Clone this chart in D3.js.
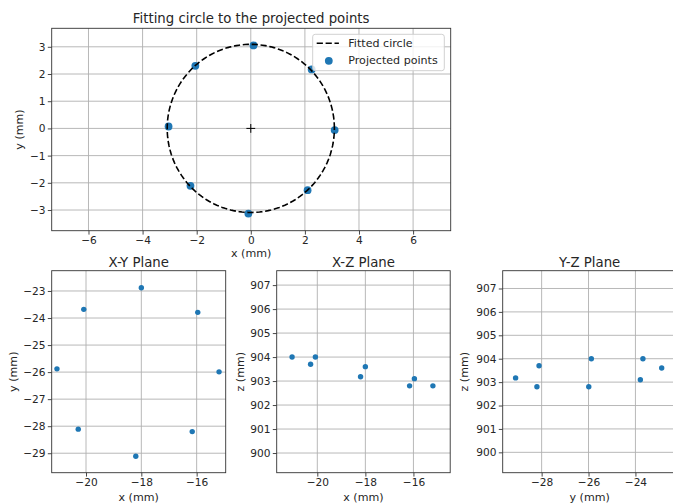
<!DOCTYPE html>
<html>
<head>
<meta charset="utf-8">
<script src="https://cdn.jsdelivr.net/npm/d3@7"></script>
<style>
  html, body { margin: 0; padding: 0; background: #fff; }
  svg { display: block; font-family: "DejaVu Sans", sans-serif; }
</style>
</head>
<body>
<svg id="chart" width="673" height="503"></svg>
<script>
// ---- Data ----
// 3D points (mm)
const ptsX = [-21.05, -20.08, -18.0, -15.96, -15.19, -16.16, -18.2, -20.28];
const ptsY = [-25.88, -23.68, -22.88, -23.79, -25.99, -28.2, -29.11, -28.11];
const ptsZ = [904.0, 904.0, 903.6, 903.1, 902.8, 902.8, 903.18, 903.7];
// Points projected onto the fitted plane (mm)
const projU = [-3.04, -2.05, 0.1, 2.25, 3.1, 2.1, -0.09, -2.23];
const projV = [0.07, 2.3, 3.05, 2.17, -0.06, -2.27, -3.13, -2.11];
// Fitted circle
const circleCenter = [0, 0];
const circleRadius = 3.09;
// Tick values
const topXTicks = [-6, -4, -2, 0, 2, 4, 6];
const topYTicks = [-3, -2, -1, 0, 1, 2, 3];
const xyXTicks = [-20, -18, -16];
const xyYTicks = [-29, -28, -27, -26, -25, -24, -23];
const xzXTicks = [-20, -18, -16];
const zTicks = [900, 901, 902, 903, 904, 905, 906, 907];
const yzXTicks = [-28, -26, -24];
// Labels
const legendLabels = ["Fitted circle", "Projected points"];

const BLUE = "#1f77b4";
const TEXT = "#262626";
const svg = d3.select("#chart");
const fmt = d3.format("d");

function panel(opt) {
  const g = svg.append("g");
  const x = d3.scaleLinear().domain(opt.xDomain).range([opt.left, opt.right]);
  const y = d3.scaleLinear().domain(opt.yDomain).range([opt.bottom, opt.top]);
  // grid
  g.append("g").selectAll("line.gx").data(opt.xTicks).join("line")
    .attr("x1", d => x(d)).attr("x2", d => x(d))
    .attr("y1", opt.top).attr("y2", opt.bottom)
    .attr("stroke", "#b0b0b0").attr("stroke-width", 0.9);
  g.append("g").selectAll("line.gy").data(opt.yTicks).join("line")
    .attr("y1", d => y(d)).attr("y2", d => y(d))
    .attr("x1", opt.left).attr("x2", opt.right)
    .attr("stroke", "#b0b0b0").attr("stroke-width", 0.9);
  // axes
  const ax = g.append("g").attr("transform", `translate(0,${opt.bottom})`)
    .call(d3.axisBottom(x).tickValues(opt.xTicks).tickFormat(fmt).tickSize(3.9).tickPadding(2.3).tickSizeOuter(0));
  const ay = g.append("g").attr("transform", `translate(${opt.left},0)`)
    .call(d3.axisLeft(y).tickValues(opt.yTicks).tickFormat(fmt).tickSize(3.9).tickPadding(2.3).tickSizeOuter(0));
  [ax, ay].forEach(a => {
    a.select(".domain").remove();
    a.selectAll(".tick line").attr("stroke", "#333").attr("stroke-width", 0.9);
    a.selectAll(".tick text").attr("fill", TEXT).style("font-size", "10.6px")
      .style("font-family", "DejaVu Sans");
  });
  // frame
  g.append("rect").attr("x", opt.left).attr("y", opt.top)
    .attr("width", opt.right - opt.left).attr("height", opt.bottom - opt.top)
    .attr("fill", "none").attr("stroke", "#333").attr("stroke-width", 0.9);
  // labels
  g.append("text").attr("x", (opt.left + opt.right) / 2).attr("y", opt.titleY)
    .attr("text-anchor", "middle").attr("fill", TEXT).style("font-size", "13.3px").text(opt.title);
  g.append("text").attr("x", (opt.left + opt.right) / 2).attr("y", opt.xLabelY)
    .attr("text-anchor", "middle").attr("fill", TEXT).style("font-size", "11.1px").text(opt.xLabel);
  g.append("text").attr("transform", `translate(${opt.yLabelX},${(opt.top + opt.bottom) / 2}) rotate(-90)`)
    .attr("text-anchor", "middle").attr("fill", TEXT).style("font-size", "11.1px").text(opt.yLabel);
  const clipId = "clip" + Math.round(opt.left) + "_" + Math.round(opt.top);
  svg.append("clipPath").attr("id", clipId).append("rect")
    .attr("x", opt.left).attr("y", opt.top).attr("width", opt.right - opt.left).attr("height", opt.bottom - opt.top);
  const plot = g.append("g").attr("clip-path", `url(#${clipId})`);
  return { g, x, y, plot };
}

// ---- Top panel ----
const topP = panel({
  left: 51.7, right: 450.7, top: 28.3, bottom: 230.7,
  xDomain: [-7.36, 7.39], yDomain: [-3.76, 3.68],
  xTicks: topXTicks, yTicks: topYTicks,
  title: "Fitting circle to the projected points", titleY: 23.3,
  xLabel: "x (mm)", xLabelY: 257.3, yLabel: "y (mm)", yLabelX: 23
});
topP.plot.selectAll("circle.pt").data(projU.map((u, i) => [u, projV[i]])).join("circle")
  .attr("cx", d => topP.x(d[0])).attr("cy", d => topP.y(d[1])).attr("r", 3.9).attr("fill", BLUE);
// fitted circle
const angles = d3.range(0, 361, 2);
const circ = d3.line().x(a => topP.x(circleCenter[0] + circleRadius * Math.cos(a * Math.PI / 180)))
  .y(a => topP.y(circleCenter[1] + circleRadius * Math.sin(a * Math.PI / 180)));
topP.plot.append("path").attr("d", circ(angles)).attr("fill", "none")
  .attr("stroke", "#000").attr("stroke-width", 1.6).attr("stroke-dasharray", "6.2,2.7");
// center marker
const ccx = topP.x(circleCenter[0]), ccy = topP.y(circleCenter[1]);
topP.plot.append("path").attr("d", `M${ccx - 4.4},${ccy}H${ccx + 4.4}M${ccx},${ccy - 4.4}V${ccy + 4.4}`)
  .attr("stroke", "#000").attr("stroke-width", 1);
// legend
const lg = svg.append("g");
lg.append("rect").attr("x", 312.7).attr("y", 34.3).attr("width", 131.6).attr("height", 36.4)
  .attr("rx", 2.5).attr("fill", "#fff").attr("fill-opacity", 0.8).attr("stroke", "#cccccc").attr("stroke-width", 0.9);
lg.append("line").attr("x1", 316.7).attr("x2", 338.9).attr("y1", 43.3).attr("y2", 43.3)
  .attr("stroke", "#000").attr("stroke-width", 1.6).attr("stroke-dasharray", "6.2,2.7");
lg.append("circle").attr("cx", 328.8).attr("cy", 60.8).attr("r", 3.9).attr("fill", BLUE);
lg.selectAll("text").data(legendLabels).join("text")
  .attr("x", 348.3).attr("y", (d, i) => 47.3 + i * 16.6)
  .attr("fill", TEXT).style("font-size", "11.1px").text(d => d);

// ---- Bottom panels ----
function scatterPanel(opt, xs, ys) {
  const p = panel(opt);
  p.plot.selectAll("circle").data(xs.map((v, i) => [v, ys[i]])).join("circle")
    .attr("cx", d => p.x(d[0])).attr("cy", d => p.y(d[1])).attr("r", 2.7).attr("fill", BLUE);
}
scatterPanel({
  left: 51.7, right: 225.7, top: 270.7, bottom: 472.7,
  xDomain: [-21.24, -14.95], yDomain: [-29.72, -22.25],
  xTicks: xyXTicks, yTicks: xyYTicks,
  title: "X-Y Plane", titleY: 266.7, xLabel: "x (mm)", xLabelY: 500.8, yLabel: "y (mm)", yLabelX: 17
}, ptsX, ptsY);
scatterPanel({
  left: 276.7, right: 450.2, top: 270.7, bottom: 472.7,
  xDomain: [-21.69, -14.47], yDomain: [899.18, 907.6],
  xTicks: xzXTicks, yTicks: zTicks,
  title: "X-Z Plane", titleY: 266.7, xLabel: "x (mm)", xLabelY: 500.8, yLabel: "z (mm)", yLabelX: 243.6
}, ptsX, ptsZ);
scatterPanel({
  left: 502.7, right: 676.7, top: 270.7, bottom: 472.7,
  xDomain: [-29.66, -22.24], yDomain: [899.13, 907.76],
  xTicks: yzXTicks, yTicks: zTicks,
  title: "Y-Z Plane", titleY: 266.7, xLabel: "y (mm)", xLabelY: 500.8, yLabel: "z (mm)", yLabelX: 468
}, ptsY, ptsZ);
</script>
</body>
</html>
